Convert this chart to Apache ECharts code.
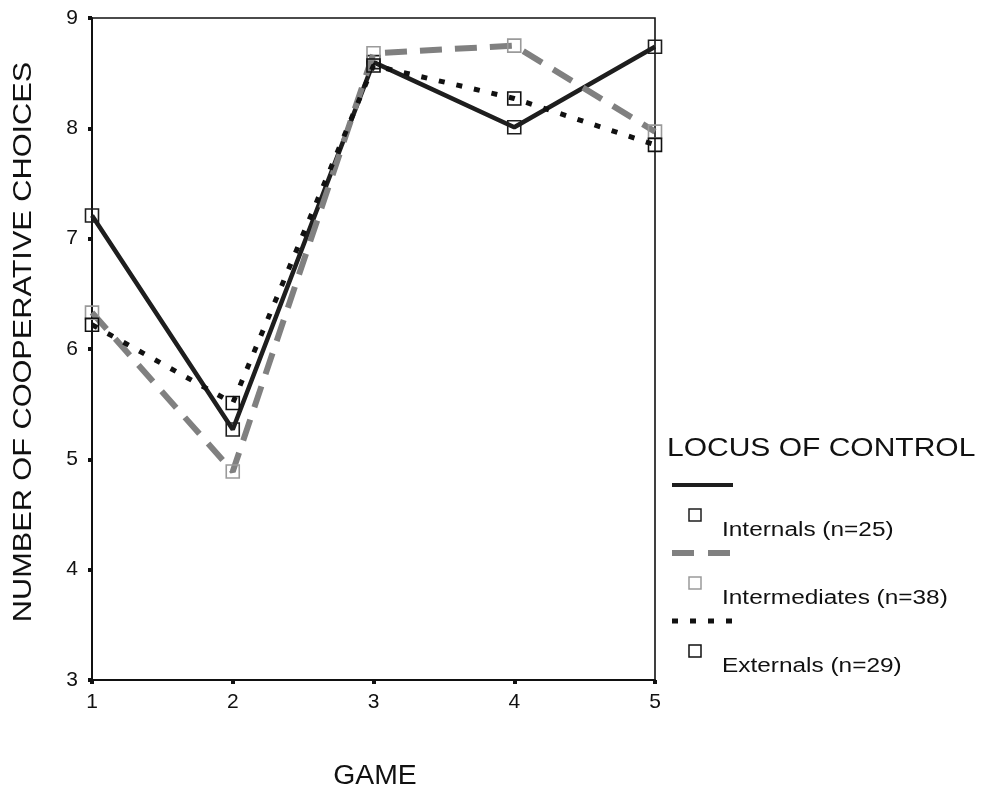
<!DOCTYPE html>
<html><head><meta charset="utf-8">
<script src="https://cdn.jsdelivr.net/npm/echarts@6/dist/echarts.min.js"></script>
<style>html,body{margin:0;padding:0;background:#fff}#c{width:982px;height:789px}</style>
</head><body><div id="c"></div>
<script>
const games = [1, 2, 3, 4, 5];
const internals = [7.21, 5.27, 8.60, 8.01, 8.74];
const intermediates = [6.33, 4.89, 8.68, 8.75, 7.97];
const externals = [6.22, 5.51, 8.57, 8.27, 7.85];
const seriesNames = ['Internals (n=25)', 'Intermediates (n=38)', 'Externals (n=29)'];
const legendTitle = 'LOCUS OF CONTROL';
const yTitle = 'NUMBER OF COOPERATIVE CHOICES';
const xTitle = 'GAME';

const FONT = '"Liberation Sans", Arial, sans-serif';
const styles = [
  {color: '#1e1e1e', width: 4.5, type: 'solid', mark: '#1e1e1e'},
  {color: '#808080', width: 6, type: [22, 13], mark: '#9a9a9a'},
  {color: '#111111', width: 5, type: [6, 12], mark: '#111111'}
];
const datas = [internals, intermediates, externals];

const chart = echarts.init(document.getElementById('c'));
const series = datas.map((d, i) => ({
  name: seriesNames[i],
  type: 'line',
  data: games.map((g, j) => [g, d[j]]),
  symbol: 'rect',
  symbolSize: 13,
  showAllSymbol: true,
  lineStyle: {color: styles[i].color, width: styles[i].width, type: styles[i].type, cap: 'butt'},
  itemStyle: {color: 'rgba(255,255,255,0)', borderColor: styles[i].mark, borderWidth: 1.6},
  z: 3 + i,
  animation: false
}));

const g = [];
// axis titles
g.push({type: 'text', x: 24, y: 342, rotation: Math.PI / 2, scaleX: 1.18,
  style: {text: yTitle, font: '26px ' + FONT, fill: '#111', align: 'center', verticalAlign: 'middle'}});
g.push({type: 'text', x: 375, y: 777, scaleX: 1.05,
  style: {text: xTitle, font: '27px ' + FONT, fill: '#111', align: 'center', verticalAlign: 'middle'}});
// legend
g.push({type: 'text', x: 667, y: 449, scaleX: 1.2,
  style: {text: legendTitle, font: '25px ' + FONT, fill: '#111', verticalAlign: 'middle'}});
const baseY = [485, 553, 621];
baseY.forEach((y, i) => {
  g.push({type: 'line', shape: {x1: 672, y1: y, x2: 733, y2: y},
    style: {stroke: styles[i].color, lineWidth: i === 0 ? 4 : (i === 1 ? 6 : 5), lineDash: i === 0 ? null : (i === 1 ? [22, 14] : [6, 12])}});
  g.push({type: 'rect', shape: {x: 689, y: y + 24, width: 12, height: 12},
    style: {fill: 'none', stroke: styles[i].mark, lineWidth: 1.5}});
  g.push({type: 'text', x: 722, y: y + 45, scaleX: 1.22,
    style: {text: seriesNames[i], font: '20px ' + FONT, fill: '#111', verticalAlign: 'middle'}});
});

chart.setOption({
  backgroundColor: '#fff',
  animation: false,
  grid: {left: 92, right: 327, top: 18, bottom: 109, show: true, borderColor: '#111', borderWidth: 1.6, backgroundColor: 'transparent'},
  xAxis: {
    type: 'value', min: 1, max: 5, interval: 1,
    axisLine: {show: true, lineStyle: {color: '#111', width: 2}},
    axisTick: {show: true, length: 4, lineStyle: {color: '#111', width: 4}},
    axisLabel: {fontSize: 21, fontFamily: FONT, color: '#111', margin: 12},
    splitLine: {show: false}
  },
  yAxis: {
    type: 'value', min: 3, max: 9, interval: 1,
    axisLine: {show: true, lineStyle: {color: '#111', width: 2}},
    axisTick: {show: true, length: 4, lineStyle: {color: '#111', width: 4}},
    axisLabel: {fontSize: 21, fontFamily: FONT, color: '#111', margin: 14},
    splitLine: {show: false}
  },
  series: series,
  graphic: g
});
</script></body></html>
